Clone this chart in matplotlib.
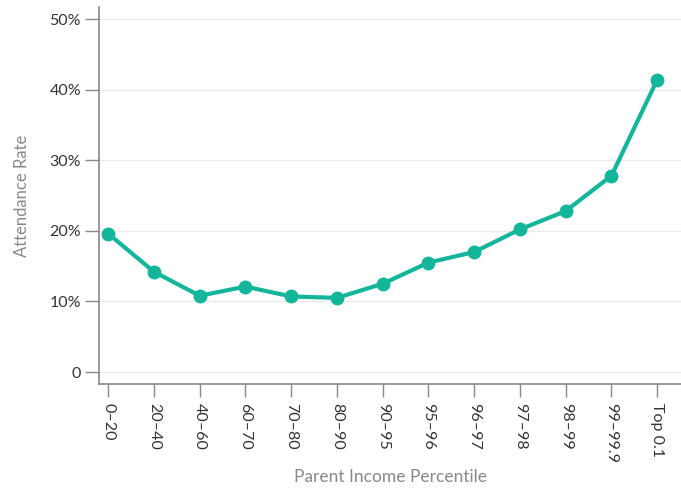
import matplotlib.pyplot as plt
from matplotlib.ticker import FuncFormatter

plt.rcParams['font.family'] = ['Lato', 'DejaVu Sans']

categories = ['0–20', '20–40', '40–60', '60–70', '70–80', '80–90', '90–95',
              '95–96', '96–97', '97–98', '98–99', '99–99.9', 'Top 0.1']
attendance = [19.6, 14.2, 10.8, 12.1, 10.7, 10.5, 12.5, 15.5, 17.0, 20.2, 22.8, 27.8, 41.4]
yticks = [0, 10, 20, 30, 40, 50]

fig = plt.figure(figsize=(6.81, 4.91), dpi=100)
ax = fig.add_axes([0.1454, 0.2179, 0.8546, 0.7678])

x = list(range(len(categories)))
ax.plot(x, attendance, color='#13b59b', lw=3, marker='o', ms=9, zorder=3)

ax.set_xlim(-0.2, len(categories) - 1 + 0.52)
ax.set_ylim(-1.7, 51.7)
ax.set_yticks(yticks)
ax.yaxis.set_major_formatter(FuncFormatter(lambda v, p: '0' if v == 0 else f'{v:.0f}%'))
ax.set_xticks(x)
ax.set_xticklabels(categories, rotation=-90, va='top', ha='center')

ax.grid(axis='y', color='#ebebeb', lw=1)
ax.set_axisbelow(True)
for s in ['top', 'right']:
    ax.spines[s].set_visible(False)
for s in ['left', 'bottom']:
    ax.spines[s].set_color('#888888')
    ax.spines[s].set_linewidth(1.2)
ax.tick_params(axis='y', length=10, width=1, color='#888888', labelsize=11.5,
               labelcolor='#333333', pad=3)
ax.tick_params(axis='x', length=9, width=1, color='#888888', labelsize=11.5,
               labelcolor='#333333', pad=5)

ax.set_ylabel('Attendance Rate', color='#888888', fontsize=12, labelpad=14)
ax.set_xlabel('Parent Income Percentile', color='#888888', fontsize=12.5, labelpad=4)

fig.savefig('out.png', dpi=100)
